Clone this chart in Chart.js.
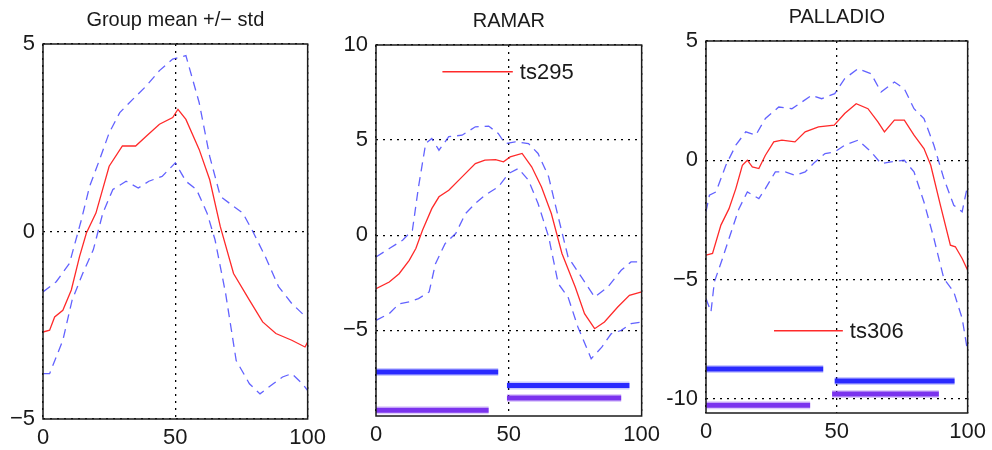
<!DOCTYPE html>
<html>
<head>
<meta charset="utf-8">
<script src="https://cdn.jsdelivr.net/npm/chart.js@4.4.1/dist/chart.umd.min.js"></script>
<style>
  body { margin: 0; background: #fff; width: 992px; height: 450px; position: relative; overflow: hidden; }
  canvas { position: absolute; top: 0; }
</style>
</head>
<body>
<canvas id="c1" width="332" height="450" style="left:0px"></canvas>
<canvas id="c2" width="336" height="450" style="left:330px"></canvas>
<canvas id="c3" width="332" height="450" style="left:660px"></canvas>
<script>
// --- tick labels ---
const xTicks = [0, 50, 100];
const p1YTicks = [-5, 0, 5];
const p1YLabels = ['\u22125', '0', '5'];
const p2YTicks = [-5, 0, 5, 10];
const p2YLabels = ['\u22125', '0', '5', '10'];
const p3YTicks = [-10, -5, 0, 5];
const p3YLabels = ['-10', '\u22125', '0', '5'];

// --- panel 1: group mean +/- std ---
const p1MeanX = [0, 2.5, 4.4, 7.5, 10.7, 13.8, 16.4, 20, 25, 30, 35, 39, 44, 49, 51, 54, 59, 63, 67, 72, 78, 83, 88, 94, 99, 100];
const p1MeanY = [-2.68, -2.63, -2.28, -2.1, -1.56, -0.67, -0.04, 0.49, 1.74, 2.28, 2.28, 2.54, 2.86, 3.04, 3.26, 2.99, 2.19, 1.38, 0.13, -1.12, -1.83, -2.41, -2.72, -2.9, -3.08, -2.95];
const p1UpX = [0, 5, 10, 14.5, 17.6, 21.4, 25, 29, 34, 39, 44, 49, 54, 59, 63, 67, 72, 75.5, 79, 84, 89, 94, 98, 100];
const p1UpY = [-1.61, -1.34, -0.85, 0.31, 1.2, 1.92, 2.63, 3.17, 3.53, 3.88, 4.29, 4.6, 4.69, 3.44, 2.0, 0.94, 0.67, 0.49, 0.04, -0.67, -1.47, -1.92, -2.19, -2.3];
const p1LoX = [0, 2.5, 7.5, 11, 15, 19, 22.6, 26.4, 31.4, 36, 40, 45, 50, 54, 58, 62, 65, 69, 73, 78, 82, 87, 90.5, 94, 98, 100];
const p1LoY = [-3.79, -3.79, -2.9, -1.83, -1.12, -0.49, 0.49, 1.12, 1.34, 1.16, 1.34, 1.47, 1.83, 1.34, 1.12, 0.49, -0.22, -1.65, -3.44, -4.06, -4.33, -4.06, -3.88, -3.79, -4.06, -4.24];

// --- panel 2: RAMAR (ts295) ---
const p2MeanX = [0, 5, 8.7, 12.5, 15, 17.5, 21, 23.7, 27.4, 32.4, 37.4, 41, 45, 48, 50.5, 55, 58.6, 62.3, 66, 70, 75, 78.5, 82.3, 86, 91, 95.4, 100];
const p2MeanY = [-2.81, -2.46, -2.02, -1.32, -0.7, 0.26, 1.4, 2.02, 2.37, 3.07, 3.77, 3.95, 3.98, 3.86, 4.12, 4.3, 3.6, 2.54, 1.14, -0.96, -2.72, -4.12, -4.91, -4.56, -3.77, -3.16, -2.98];
const p2UpX = [0, 5, 10, 13.7, 16, 18.7, 21, 23.7, 27.4, 32.4, 37.4, 42.4, 46, 48.6, 52.4, 57.4, 61, 65, 68.6, 72.3, 77.3, 82.3, 87.3, 92.3, 96, 100];
const p2UpY = [-1.14, -0.7, -0.26, 0.26, 2.54, 4.82, 5.09, 4.47, 5.18, 5.26, 5.7, 5.74, 5.35, 4.82, 4.91, 4.82, 4.3, 3.07, 0.96, -1.14, -2.19, -3.25, -2.72, -1.84, -1.4, -1.4];
const p2LoX = [0, 5, 8.7, 12.5, 16, 20, 22.4, 26, 30, 33.7, 37.4, 41, 46, 50, 53.6, 57.4, 61, 65, 68.6, 72.3, 76, 81, 85, 88.5, 92.3, 96, 100];
const p2LoY = [-4.47, -4.12, -3.6, -3.5, -3.33, -2.98, -1.49, -0.44, 0.09, 1.14, 1.67, 2.1, 2.54, 3.25, 3.51, 2.89, 1.67, -0.09, -2.54, -3.25, -4.82, -6.49, -5.88, -5.18, -5.0, -4.65, -4.56];
// marker runs: [start, end, level]
const p2BlueRuns = [[0, 46, -7.19], [49.3, 95.4, -7.9]];
const p2PurpleRuns = [[0, 42.4, -9.2], [49.3, 92.3, -8.56]];

// --- panel 3: PALLADIO (ts306) ---
const p3MeanX = [0, 2.5, 5.7, 8.8, 11.4, 13.9, 15.8, 17.7, 20.2, 22.7, 25.9, 29, 34, 37.9, 43, 49, 53, 57.4, 61.9, 65.7, 68.2, 72, 75.8, 79.5, 83.3, 85.9, 89.6, 93.4, 95.3, 97.9, 100];
const p3MeanY = [-3.98, -3.91, -2.72, -2.03, -1.19, -0.21, 0, -0.28, -0.35, 0.21, 0.77, 0.84, 0.77, 1.19, 1.4, 1.47, 1.96, 2.37, 2.16, 1.61, 1.19, 1.68, 1.68, 1.05, 0.49, -0.21, -1.89, -3.56, -3.63, -4.12, -4.61];
const p3UpX = [0, 1.3, 3.8, 7.6, 11.4, 15.2, 19, 22.7, 27.8, 32.8, 36.6, 40.4, 44.2, 49.2, 53, 58.1, 63.1, 66.9, 72, 75.8, 79.5, 83.3, 87.1, 90.9, 94.7, 97.9, 100];
const p3UpY = [-2.16, -1.47, -1.33, -0.21, 0.63, 1.19, 1.05, 1.75, 2.23, 2.16, 2.44, 2.72, 2.58, 2.79, 3.42, 3.84, 3.63, 2.86, 3.28, 3.0, 2.16, 1.75, 0.63, -0.77, -1.89, -2.16, -1.05];
const p3LoX = [0, 1.9, 3.2, 6.3, 8.8, 12.6, 15.8, 20.2, 22.7, 26.5, 30.3, 34, 37.9, 41.7, 45.5, 49.2, 53, 58.1, 63.1, 66.9, 70.7, 75.8, 79.5, 83.3, 87.1, 90.9, 94.7, 97.9, 100];
const p3LoY = [-5.8, -6.36, -5.1, -4.12, -3.28, -2.03, -1.33, -1.61, -1.19, -0.49, -0.49, -0.63, -0.49, -0.07, 0.28, 0.35, 0.63, 0.84, 0.35, -0.14, -0.07, 0, -0.49, -1.75, -3.28, -4.96, -5.52, -6.63, -8.03];
const p3BlueRuns = [[0, 44.8, -8.76], [49.2, 95, -9.26]];
const p3PurpleRuns = [[0, 39.8, -10.27], [48.2, 89, -9.8]];

const RED = '#ff2a2a';
const BLUE_DASH = 'rgba(70,70,255,0.85)';
const BLUE_RUN = '#2a2aff';
const PURPLE_RUN = '#7b33ee';
const FONT = "'Liberation Sans', Arial, sans-serif";

function pts(xs, ys) {
    return xs.map((x, i) => ({ x: x, y: ys[i] }));
}

function runSets(runs, color) {
    let out = [];
    runs.forEach(r => {
        // light fringe around the marker band
        out.push({ data: [{ x: r[0], y: r[2] }, { x: r[1], y: r[2] }], borderColor: color + '40', borderWidth: 8, pointRadius: 0, borderCapStyle: 'butt', order: 5 });
        out.push({ data: [{ x: r[0], y: r[2] }, { x: r[1], y: r[2] }], borderColor: color, borderWidth: 5, pointRadius: 0, borderCapStyle: 'butt', order: 4 });
    });
    return out;
}

// title, frame, and inline legend
const decorPlugin = {
    id: 'decor',
    afterDraw(chart, args, opts) {
        const ctx = chart.ctx;
        const a = chart.chartArea;
        ctx.save();
        ctx.strokeStyle = '#1a1a1a';
        ctx.lineWidth = 1.5;
        ctx.strokeRect(a.left, a.top, a.right - a.left, a.bottom - a.top);
        ctx.fillStyle = '#1a1a1a';
        ctx.font = '20px ' + FONT;
        ctx.textAlign = 'center';
        ctx.textBaseline = 'middle';
        ctx.fillText(opts.title, (a.left + a.right) / 2, a.top - 24);
        if (opts.legend) {
            const xs = chart.scales.x, ys = chart.scales.y;
            const x0 = xs.getPixelForValue(opts.legend.x0);
            const x1 = xs.getPixelForValue(opts.legend.x1);
            const y = ys.getPixelForValue(opts.legend.y);
            ctx.strokeStyle = RED;
            ctx.lineWidth = 1.5;
            ctx.beginPath();
            ctx.moveTo(x0, y);
            ctx.lineTo(x1, y);
            ctx.stroke();
            ctx.font = '22px ' + FONT;
            ctx.textAlign = 'left';
            ctx.fillText(opts.legend.label, x1 + 7, y + 1);
        }
        ctx.restore();
    }
};

function makePanel(id, p) {
    let datasets = [];
    if (p.runs) datasets = datasets.concat(p.runs);
    datasets.push({ data: p.up, borderColor: BLUE_DASH, borderWidth: 1.3, borderDash: [9, 6], pointRadius: 0, order: 2 });
    datasets.push({ data: p.lo, borderColor: BLUE_DASH, borderWidth: 1.3, borderDash: [9, 6], pointRadius: 0, order: 2 });
    datasets.push({ data: p.mean, borderColor: RED, borderWidth: 1.3, pointRadius: 0, order: 1 });

    const gridStyle = { color: '#000', lineWidth: 1.3, drawTicks: false };
    const borderStyle = { display: false, dash: [2, 5] };

    return new Chart(document.getElementById(id), {
        type: 'line',
        data: { datasets: datasets },
        plugins: [decorPlugin],
        options: {
            responsive: false,
            animation: false,
            layout: { padding: { top: p.top, right: p.right, left: 0, bottom: 0 } },
            plugins: {
                legend: { display: false },
                tooltip: { enabled: false },
                decor: { title: p.title, legend: p.legend }
            },
            scales: {
                x: {
                    type: 'linear', min: 0, max: 100,
                    afterBuildTicks: s => { s.ticks = xTicks.map(v => ({ value: v })); },
                    afterFit: s => { s.height = p.xh; },
                    border: borderStyle,
                    grid: gridStyle,
                    ticks: { color: '#1a1a1a', font: { size: 22, family: FONT }, padding: 6, maxRotation: 0 }
                },
                y: {
                    type: 'linear', min: p.ymin, max: p.ymax,
                    afterBuildTicks: s => { s.ticks = p.yTicks.map(v => ({ value: v })); },
                    afterFit: s => { s.width = p.yw; },
                    border: borderStyle,
                    grid: gridStyle,
                    ticks: {
                        color: '#1a1a1a', font: { size: 22, family: FONT }, padding: 8,
                        callback: v => { let i = p.yTicks.indexOf(v); return i >= 0 ? p.yLabels[i] : ''; }
                    }
                }
            }
        }
    });
}

makePanel('c1', {
    title: 'Group mean +/\u2212 std',
    mean: pts(p1MeanX, p1MeanY), up: pts(p1UpX, p1UpY), lo: pts(p1LoX, p1LoY),
    ymin: -5, ymax: 5, yTicks: p1YTicks, yLabels: p1YLabels,
    top: 44, right: 24, yw: 43, xh: 31
});

makePanel('c2', {
    title: 'RAMAR',
    mean: pts(p2MeanX, p2MeanY), up: pts(p2UpX, p2UpY), lo: pts(p2LoX, p2LoY),
    runs: runSets(p2BlueRuns, BLUE_RUN).concat(runSets(p2PurpleRuns, PURPLE_RUN)),
    ymin: -9.5, ymax: 10, yTicks: p2YTicks, yLabels: p2YLabels,
    legend: { x0: 25, x1: 51.5, y: 8.6, label: 'ts295' },
    top: 45, right: 23, yw: 46, xh: 34
});

makePanel('c3', {
    title: 'PALLADIO',
    mean: pts(p3MeanX, p3MeanY), up: pts(p3UpX, p3UpY), lo: pts(p3LoX, p3LoY),
    runs: runSets(p3BlueRuns, BLUE_RUN).concat(runSets(p3PurpleRuns, PURPLE_RUN)),
    ymin: -10.6, ymax: 5, yTicks: p3YTicks, yLabels: p3YLabels,
    legend: { x0: 26, x1: 52.3, y: -7.15, label: 'ts306' },
    top: 41, right: 22, yw: 46, xh: 37
});
</script>
</body>
</html>
